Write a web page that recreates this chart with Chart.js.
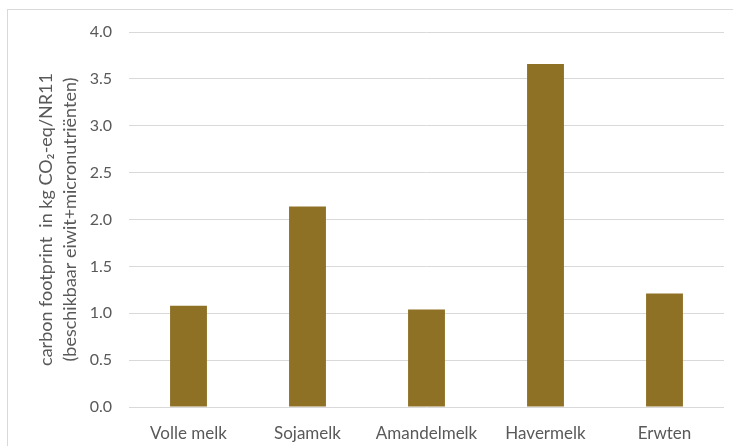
<!DOCTYPE html>
<html>
<head>
<meta charset="utf-8">
<script src="https://cdn.jsdelivr.net/npm/chart.js@4"></script>
<style>
  html, body { margin: 0; padding: 0; background: #fff; }
  #wrap { position: relative; width: 733px; height: 446px; overflow: hidden; }
  #frame { position: absolute; left: 7px; top: 9px; width: 760px; height: 460px;
           border-left: 1px solid #d9d9d9; border-top: 1px solid #d9d9d9; box-sizing: border-box; }
  canvas { position: absolute; left: 0; top: 0; }
</style>
</head>
<body>
<div id="wrap">
  <div id="frame"></div>
  <canvas id="c" width="733" height="446"></canvas>
</div>
<script>
// Carbon footprint per nutrient-density unit for milk types and peas
const categories = ['Volle melk', 'Sojamelk', 'Amandelmelk', 'Havermelk', 'Erwten'];
const footprint = [1.08, 2.14, 1.04, 3.66, 1.21];
const yTicks = [0, 0.5, 1.0, 1.5, 2.0, 2.5, 3.0, 3.5, 4.0];
const yTitle = ['carbon footprint  in kg CO\u2082-eq/NR11', '(beschikbaar eiwit+micronutri\u00ebnten)'];

const textColor = '#595959';
const gridColor = '#d9d9d9';
const fontFamily = 'Lato, "Open Sans", sans-serif';

new Chart(document.getElementById('c'), {
  type: 'bar',
  data: {
    labels: categories,
    datasets: [{
      data: footprint,
      backgroundColor: '#8f7126',
      borderWidth: 0,
      categoryPercentage: 1,
      barPercentage: 0.31
    }]
  },
  options: {
    responsive: false,
    devicePixelRatio: 1,
    animation: false,
    events: [],
    layout: { padding: { left: 0, top: 32, right: 9, bottom: 0 } },
    plugins: { legend: { display: false }, tooltip: { enabled: false } },
    scales: {
      x: {
        grid: { display: false },
        border: { display: false },
        ticks: { color: textColor, font: { family: fontFamily, size: 17 }, padding: 8, maxRotation: 0 },
        afterFit: s => { s.height = 39; }
      },
      y: {
        min: 0,
        max: 4,
        afterBuildTicks: s => { s.ticks = yTicks.map(v => ({ value: v })); },
        grid: { color: gridColor, lineWidth: 1, drawTicks: false },
        border: { display: false },
        ticks: {
          color: textColor,
          font: { family: fontFamily, size: 16 },
          padding: 17,
          callback: v => Number(v).toFixed(1)
        },
        title: {
          display: true,
          text: yTitle,
          color: textColor,
          font: { family: fontFamily, size: 18, lineHeight: 1.35 },
          padding: { top: 34, bottom: 0 }
        },
        afterFit: s => { s.width = 129; }
      }
    }
  }
});
</script>
</body>
</html>
